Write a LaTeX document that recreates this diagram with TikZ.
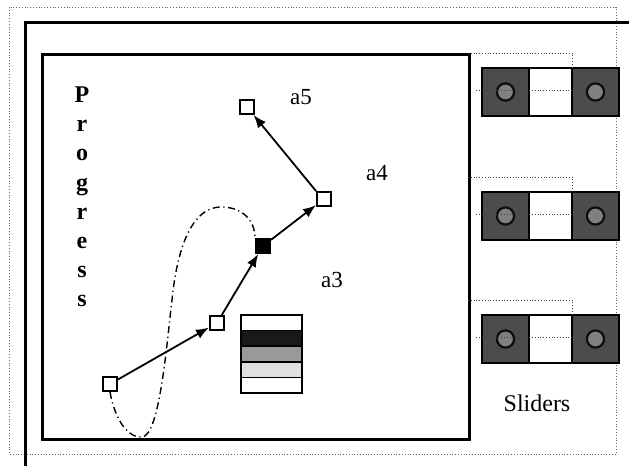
\documentclass[tikz,border=0pt]{standalone}
\usepackage{fontspec}
\setmainfont{Liberation Serif}
\usetikzlibrary{arrows.meta,positioning}

\tikzset{
  pt/.style={draw, fill=white, line width=1pt, minimum size=7pt, inner sep=0pt},
  knob/.style={draw, line width=1.2pt, fill=black!70, minimum width=23.5pt, minimum height=24pt, inner sep=0pt, outer sep=0pt},
  gap/.style={draw, line width=1.2pt, fill=white, minimum width=21.5pt, minimum height=24pt, inner sep=0pt, outer sep=0pt},
  wire/.style={densely dotted, line width=0.4pt, black!75},
  lbl/.style={font=\fontsize{11.5}{13}\selectfont},
}

\begin{document}
\begin{tikzpicture}[x=0.5pt, y=-0.5pt, >={Latex[length=6.5pt,width=5pt]}]
  \useasboundingbox (0,0) rectangle (629,466);

  % --- 1. 外枠 ---
  \draw[densely dotted, line width=0.4pt, black!60] (9,7) rectangle (616,454);
  \draw[line width=1.5pt] (629,23) -- (26,23) -- (26,466);
  \node[draw, line width=1.3pt, anchor=north west, minimum width=213.5pt,
    minimum height=192.5pt, inner sep=0pt] (frame) at (41,53) {};

  % --- 2. Progress の縦書き ---
  \node[font=\fontsize{12}{14.6}\selectfont\bfseries, align=center] (progress) at (82,197)
    {P\\r\\o\\g\\r\\e\\s\\s};

  % --- 3. 点と矢印 ---
  \node[pt] (n1) at (110,384) {};
  \node[pt] (n2) at (217,323) {};
  \node[pt, fill=black] (n3) at (263,246) {};
  \node[pt] (n4) at (324,199) {};
  \node[pt] (n5) at (247,107) {};
  \draw[->, line width=0.9pt] (n1) -- (n2);
  \draw[->, line width=0.9pt] (n2) -- (n3);
  \draw[->, line width=0.9pt] (n3) -- (n4);
  \draw[->, line width=0.9pt] (n4.north west) -- (n5);

  \node[lbl] (a5) at (301,97) {a5};
  \node[lbl] (a4) at (377,173) {a4};
  \node[lbl] (a3) at (332,280) {a3};

  % 一点鎖線のループ
  \draw[line width=0.7pt, dash pattern=on 3.5pt off 1.8pt on 0.6pt off 1.8pt]
    (n1.south) .. controls (115,420) and (128,438) .. (142,437)
    .. controls (160,436) and (167,340) .. (172,300)
    .. controls (178,240) and (195,207) .. (221,207)
    .. controls (242,207) and (255,220) .. (n3.north west);

  % --- 4. 凡例の帯 ---
  \foreach \k/\c in {0/white, 1/black!90, 2/black!40, 3/black!12, 4/white}
    \filldraw[fill=\c, line width=0.8pt] (241,315+15.6*\k) rectangle ++(61,15.6);
  \draw[line width=1.1pt] (241,315) rectangle (302,393);

  % --- 5. スライダー ---
  \foreach \i/\y/\t in {1/68/53, 2/192/177, 3/315/300} {
    \node[knob, anchor=north west] (s\i l) at (482,\y) {};
    \node[gap, right=0pt of s\i l] (s\i m) {};
    \node[knob, right=0pt of s\i m] (s\i r) {};
    \foreach \p in {l,r}
      \draw[line width=1.1pt, black!95, fill=black!50] (s\i\p) circle (4.3pt);
    \coordinate (t\i) at (468,\t);
    \coordinate (w\i) at (476,\y+22);
    \draw[wire] (t\i) -| (s\i m.north east);
    \draw[wire] (w\i) -- (w\i -| s\i m.east);
  }
  \node[font=\fontsize{12}{14}\selectfont] (sliders) at (537,403) {Sliders};

\end{tikzpicture}
\end{document}
